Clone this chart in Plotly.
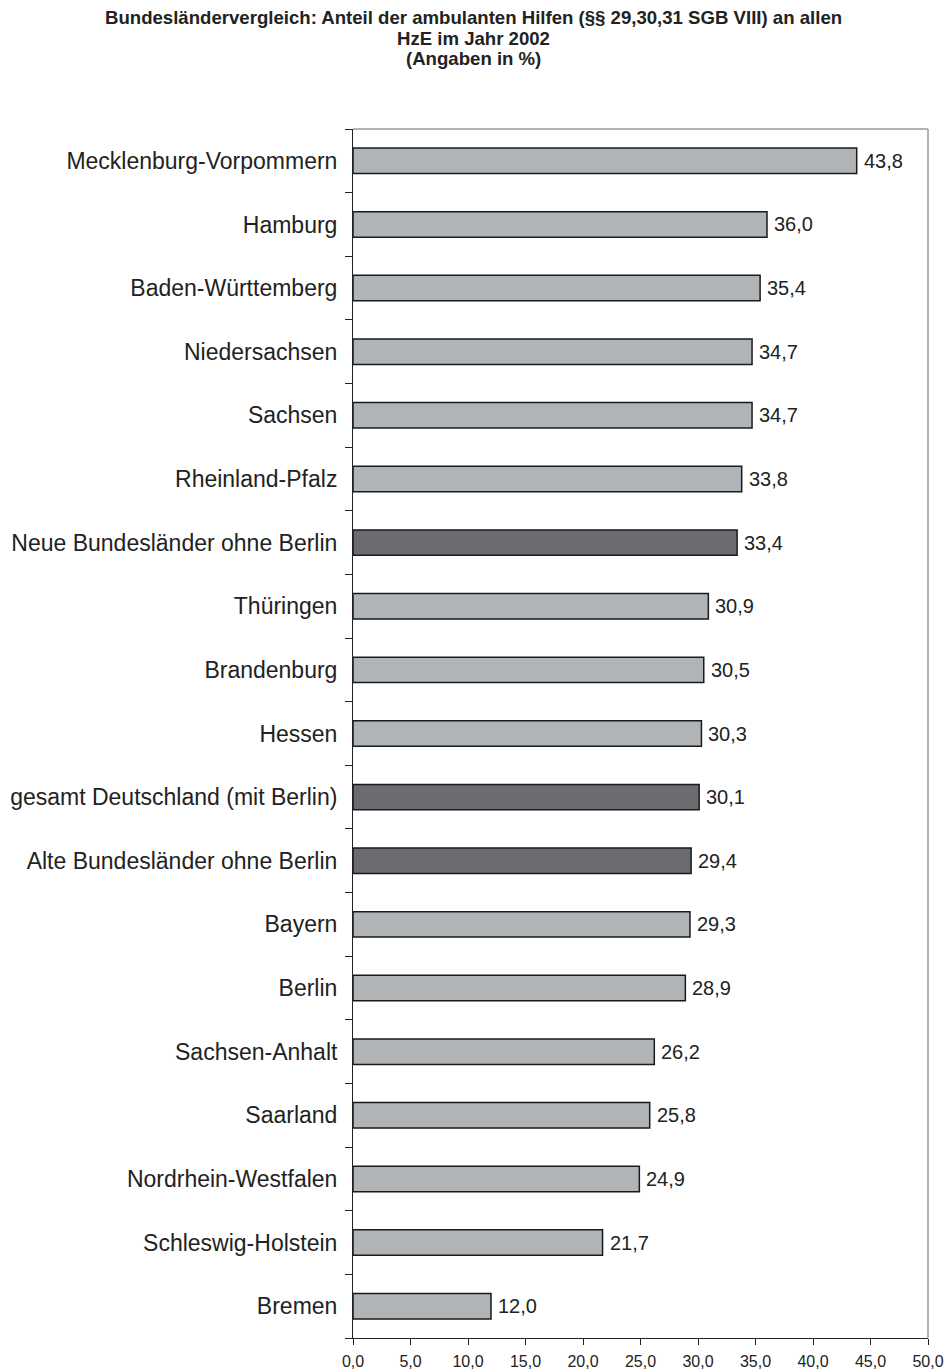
import plotly.graph_objects as go

# Share of outpatient assistance (§§ 29, 30, 31 SGB VIII) in all HzE, 2002, by federal state
states = [
    "Mecklenburg-Vorpommern",
    "Hamburg",
    "Baden-Württemberg",
    "Niedersachsen",
    "Sachsen",
    "Rheinland-Pfalz",
    "Neue Bundesländer ohne Berlin",
    "Thüringen",
    "Brandenburg",
    "Hessen",
    "gesamt Deutschland (mit Berlin)",
    "Alte Bundesländer ohne Berlin",
    "Bayern",
    "Berlin",
    "Sachsen-Anhalt",
    "Saarland",
    "Nordrhein-Westfalen",
    "Schleswig-Holstein",
    "Bremen",
]
shares = [43.8, 36.0, 35.4, 34.7, 34.7, 33.8, 33.4, 30.9, 30.5, 30.3,
          30.1, 29.4, 29.3, 28.9, 26.2, 25.8, 24.9, 21.7, 12.0]
aggregates = {
    "Neue Bundesländer ohne Berlin",
    "gesamt Deutschland (mit Berlin)",
    "Alte Bundesländer ohne Berlin",
}
x_ticks = [0, 5, 10, 15, 20, 25, 30, 35, 40, 45, 50]
title_lines = [
    "Bundesländervergleich: Anteil der ambulanten Hilfen (§§ 29,30,31 SGB VIII) an allen",
    "HzE im Jahr 2002",
    "(Angaben in %)",
]

W, H = 946, 1369
ML, MR, MT, MB = 353, 18, 129, 31
FONT = "Liberation Sans, Arial, sans-serif"
INK = "#222222"
LIGHT = "#b1b4b7"
DARK = "#6b6c70"

colors = [DARK if s in aggregates else LIGHT for s in states]
labels = [f"{v:.1f}".replace(".", ",") for v in shares]

fig = go.Figure(
    go.Bar(
        x=shares,
        y=states,
        orientation="h",
        marker=dict(color=colors, line=dict(color="#1a1a1a", width=1.5)),
        width=0.4,
        hoverinfo="skip",
    )
)

# value labels to the right of each bar
for s, v, t in zip(states, shares, labels):
    fig.add_annotation(
        x=v, y=s, xref="x", yref="y", text=t, showarrow=False,
        xanchor="left", yanchor="middle", xshift=5,
        font=dict(size=20, color=INK, family=FONT),
    )

# centred three-line heading across the full page width
plot_w = W - ML - MR
plot_h = H - MT - MB
title_x = (W / 2 - ML) / plot_w
for line, cy in zip(title_lines, [17, 38, 58]):
    fig.add_annotation(
        x=title_x, y=1 + (MT - cy) / plot_h, xref="paper", yref="paper",
        text=f"<b>{line}</b>", showarrow=False,
        xanchor="center", yanchor="middle",
        font=dict(size=18.6, color=INK, family=FONT),
    )

fig.update_layout(
    width=W,
    height=H,
    margin=dict(l=ML, r=MR, t=MT, b=MB, autoexpand=False),
    paper_bgcolor="white",
    plot_bgcolor="white",
    showlegend=False,
    font=dict(family=FONT, color=INK),
)

fig.update_xaxes(
    range=[0, 50],
    tickvals=x_ticks,
    ticktext=[f"{t:.1f}".replace(".", ",") for t in x_ticks],
    ticks="outside",
    ticklen=6,
    tickcolor=INK,
    tickfont=dict(size=16),
    ticklabelstandoff=3,
    showline=True,
    linecolor=INK,
    linewidth=1,
    showgrid=False,
    zeroline=False,
    automargin=False,
)
fig.update_yaxes(
    categoryorder="array",
    categoryarray=states[::-1],
    tickson="boundaries",
    ticks="outside",
    ticklen=7,
    tickcolor=INK,
    tickfont=dict(size=23),
    ticklabelstandoff=10,
    showline=True,
    linecolor=INK,
    linewidth=1,
    showgrid=False,
    zeroline=False,
    automargin=False,
)

# light grey frame along the top and right edges of the plot area
fig.add_shape(type="line", xref="paper", yref="paper", x0=0, x1=1, y0=1, y1=1,
              line=dict(color="#9a9a9a", width=1.5))
fig.add_shape(type="line", xref="paper", yref="paper", x0=1, x1=1, y0=0, y1=1,
              line=dict(color="#9a9a9a", width=1.5))

fig.write_html("out.html")
